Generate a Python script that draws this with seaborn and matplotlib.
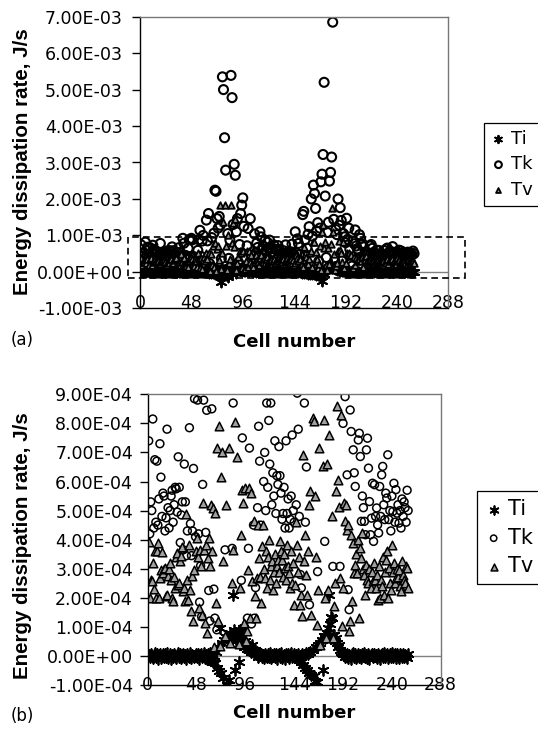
import numpy as np
import pandas as pd
import seaborn as sns
import matplotlib.pyplot as plt
from matplotlib.patches import Rectangle
from matplotlib.ticker import FuncFormatter

# energy dissipation rate per cell, in units of 1e-4 J/s (cells 1..256)
ti = [0.03, -0.05, 0.06, 0.00, -0.08, 0.04, 0.10, -0.03, 0.05, -0.10, 0.02, 0.08, -0.06, 0.00, 0.07, -0.04,
      0.05, -0.02, 0.09, -0.07, 0.01, 0.06, -0.09, 0.03, -0.04, 0.08, 0.00, -0.06, 0.04, 0.10, -0.02, 0.05,
      -0.08, 0.02, 0.07, -0.05, 0.03, -0.10, 0.06, 0.01, -0.03, 0.09, -0.07, 0.04, 0.00, -0.05, 0.08, -0.02,
      0.05, -0.09, 0.03, 0.07, -0.04, 0.00, 0.10, -0.06, 0.02, -0.12, 0.06, -0.10, 0.10, -0.15, 0.05, -0.20,
      0.00, -0.25, 0.14, -0.40, 0.30, -0.53, 0.96, -0.60, 0.43, -0.76, 0.55, -2.70, 0.66, -0.99, 0.60, -0.82,
      0.79, -1.30, 0.77, 2.10, 0.89, -0.50, 0.50, 0.68, 0.72, -0.20, 0.89, 0.40, 0.68, 0.97, 0.30, 0.50,
      0.37, 0.25, 0.39, 0.20, 0.31, 0.15, 0.39, 0.10, 0.20, 0.05, 0.12, -0.05, 0.10, 0.02, 0.06, -0.03,
      0.04, -0.07, 0.08, 0.01, -0.05, 0.06, -0.02, 0.09, -0.08, 0.03, 0.00, 0.07, -0.04, 0.05, -0.10, 0.02,
      0.06, -0.03, 0.10, -0.06, 0.01, 0.04, -0.09, 0.08, -0.01, 0.05, -0.07, 0.03, 0.09, -0.04, 0.00, 0.06,
      -0.05, 0.03, -0.10, 0.05, -0.15, 0.00, -0.20, 0.08, -0.31, 0.02, -0.40, 0.10, -0.47, 0.05, -0.60, 0.14,
      -0.64, 0.20, -0.70, -0.87, 0.30, -0.90, 0.39, -1.10, 0.45, -2.50, 0.55, -0.50, 0.68, 0.60, 0.68, 0.80,
      0.96, 2.10, 1.10, 1.35, 1.30, 0.73, 0.73, 0.50, 0.60, 0.45, 0.30, 0.39, 0.20, 0.15, 0.10, 0.05,
      0.08, -0.04, 0.02, 0.07, -0.06, 0.04, 0.00, -0.09, 0.05, 0.10, -0.03, 0.06, -0.07, 0.01, 0.08, -0.05,
      0.03, -0.08, 0.06, 0.00, 0.09, -0.02, 0.04, -0.06, 0.07, -0.10, 0.02, 0.05, -0.04, 0.08, -0.01, 0.03,
      -0.06, 0.07, 0.01, -0.09, 0.04, 0.06, -0.03, 0.10, -0.05, 0.02, 0.08, -0.07, 0.00, 0.05, -0.02, 0.09,
      -0.04, 0.03, 0.07, -0.08, 0.05, 0.00, -0.06, 0.08, 0.02, -0.03, 0.06, -0.05, 0.04, 0.01, -0.07, 0.05]

tk = [7.4, 4.2, 5.3, 5.0, 8.15, 4.4, 6.75, 4.6, 6.7, 4.5, 5.4, 7.3, 6.15, 4.8, 5.6, 5.5,
      4.3, 4.75, 7.8, 5.1, 4.4, 5.0, 5.5, 5.7, 4.6, 5.2, 5.8, 5.75, 4.95, 6.85, 5.8, 3.9,
      4.85, 5.3, 3.65, 6.6, 5.3, 3.45, 4.3, 9.2, 7.85, 4.55, 3.45, 4.3, 6.45, 8.85, 4.1, 9.2,
      8.8, 4.2, 1.85, 3.1, 1.35, 5.9, 8.8, 11.4, 4.25, 8.45, 10.0, 2.25, 1.2, 14.2, 8.5, 16.0,
      2.3, 1.3, 9.4, 0.9, 10.6, 22.4, 22.1, 14.6, 12.0, 15.2, 12.8, 3.65, 53.5, 50.0, 36.8, 27.9,
      0.7, 10.5, 3.7, 8.7, 53.9, 47.8, 13.0, 29.5, 26.5, 11.0, 14.6, 2.6, 7.5, 16.0, 18.3, 20.3,
      12.5, 1.3, 3.7, 7.15, 11.9, 1.1, 14.6, 4.5, 1.3, 2.35, 10.4, 5.1, 7.9, 6.7, 4.5, 11.0,
      9.6, 6.0, 7.0, 5.0, 8.7, 5.8, 8.1, 6.6, 8.7, 5.2, 6.3, 5.5, 7.4, 4.9, 6.2, 5.9,
      7.2, 6.2, 5.6, 4.7, 4.9, 5.8, 4.4, 7.4, 4.9, 5.4, 4.4, 4.7, 5.5, 7.6, 5.0, 4.6,
      11.0, 5.2, 9.04, 7.8, 4.8, 2.8, 2.34, 15.7, 16.6, 8.7, 4.6, 6.5, 10.3, 12.4, 1.76, 20.0,
      9.8, 23.8, 21.5, 17.4, 11.2, 13.5, 2.9, 12.0, 24.7, 26.8, 32.2, 52.0, 20.8, 3.94, 10.8, 13.6,
      24.9, 27.3, 31.5, 68.5, 14.4, 3.08, 11.6, 10.2, 20.0, 12.8, 17.6, 14.1, 3.08, 10.5, 9.6, 8.0,
      14.7, 8.92, 12.0, 6.23, 2.28, 1.59, 8.46, 7.72, 11.5, 7.09, 6.3, 5.83, 10.2, 9.2, 7.43, 7.66,
      6.86, 4.63, 5.5, 5.1, 4.63, 4.17, 7.09, 7.49, 6.46, 5.31, 4.17, 4.74, 5.94, 3.94, 5.89, 4.8,
      5.09, 4.51, 4.23, 5.83, 4.8, 6.23, 6.52, 5.2, 4.69, 5.6, 5.43, 6.92, 4.69, 5.0, 4.3, 5.5,
      4.97, 5.94, 4.6, 5.72, 4.91, 5.2, 4.57, 5.0, 4.4, 5.4, 4.8, 5.3, 5.1, 4.6, 5.7, 5.0]

tv = [3.93, 2.0, 2.61, 2.57, 3.2, 2.3, 3.6, 2.0, 3.6, 3.88, 1.99, 2.68, 2.95, 3.56, 2.85, 3.0,
      3.02, 2.05, 2.11, 2.74, 3.0, 3.2, 2.62, 2.0, 1.88, 2.7, 2.34, 3.4, 3.54, 2.45, 2.5, 3.25,
      3.45, 3.75, 2.25, 2.34, 1.9, 4.88, 2.62, 1.94, 3.83, 2.28, 1.55, 2.74, 1.2, 2.97, 3.6, 4.05,
      3.4, 1.65, 3.65, 3.1, 1.42, 5.26, 3.65, 1.13, 3.83, 0.79, 3.37, 4.06, 3.1, 5.2, 3.6, 5.1,
      0.3, 4.9, 1.82, 7.15, 1.2, 7.9, 0.33, 6.14, 7.0, 3.25, 18.3, 0.68, 5.2, 13.7, 18.3, 7.15,
      0.45, 10.0, 2.5, 3.65, 18.3, 8.05, 13.3, 6.86, 14.6, 0.4, 2.34, 4.17, 5.7, 5.26, 1.13, 5.77,
      0.5, 0.85, 2.97, 5.77, 1.3, 5.6, 2.57, 4.63, 2.05, 1.3, 2.68, 4.5, 3.37, 2.7, 1.82, 3.77,
      4.5, 3.0, 2.68, 3.6, 2.34, 3.4, 4.0, 2.6, 3.1, 3.25, 2.28, 2.9, 3.5, 2.5, 3.08, 3.3,
      2.9, 3.94, 3.6, 3.3, 2.7, 3.5, 3.02, 2.6, 3.8, 3.1, 2.85, 2.34, 3.6, 2.5, 3.2, 1.76,
      2.45, 4.6, 3.83, 2.9, 3.4, 1.76, 2.11, 1.36, 6.92, 3.25, 4.17, 2.8, 2.11, 3.6, 5.2, 5.66,
      1.42, 8.18, 8.07, 5.49, 3.4, 1.08, 2.28, 7.15, 0.39, 10.9, 12.8, 6.55, 8.12, 2.0, 0.62, 6.6,
      2.28, 7.6, 17.6, 10.9, 4.8, 0.62, 1.71, 2.5, 5.66, 8.6, 6.06, 5.14, 2.68, 8.29, 1.02, 2.34,
      5.26, 4.65, 5.2, 4.34, 4.5, 0.85, 1.19, 4.17, 1.88, 3.88, 2.85, 3.14, 3.5, 2.85, 4.0, 1.31,
      3.71, 3.37, 4.23, 3.0, 2.8, 2.1, 3.14, 2.6, 2.5, 3.0, 2.34, 2.9, 2.57, 3.2, 2.6, 2.34,
      2.8, 1.94, 3.1, 1.99, 2.6, 2.4, 3.42, 2.11, 2.9, 3.3, 3.6, 1.99, 3.02, 2.5, 2.28, 3.83,
      2.9, 3.2, 2.5, 2.68, 3.0, 2.7, 2.97, 2.4, 2.22, 3.25, 2.8, 2.62, 2.5, 3.1, 3.02, 2.34]

series = ['Ti', 'Tk', 'Tv']
xticks = [0, 48, 96, 144, 192, 240, 288]
yticks_a = [-1e-3, 0.0, 1e-3, 2e-3, 3e-3, 4e-3, 5e-3, 6e-3, 7e-3]
yticks_b = [-1e-4, 0.0, 1e-4, 2e-4, 3e-4, 4e-4, 5e-4, 6e-4, 7e-4, 8e-4, 9e-4]

W, H = 538, 735


def make_frame():
    parts = []
    for name, vals in zip(series, [ti, tk, tv]):
        parts.append(pd.DataFrame({'cell': np.arange(1, len(vals) + 1),
                                   'rate': np.array(vals) * 1e-4,
                                   'series': name}))
    return pd.concat(parts, ignore_index=True)


def draw_panel(ax, df, styles, yticks, xpad, ypad):
    ax.axhline(0, color='#808080', lw=1, zorder=0.5)
    for name in series:
        d = df[df['series'] == name]
        sns.scatterplot(x='cell', y='rate', data=d, ax=ax, label=name, **styles[name])

    ax.set_xlim(0, 288)
    ax.set_ylim(yticks[0], yticks[-1])
    ax.set_xticks(xticks)
    ax.set_yticks(yticks)
    ax.yaxis.set_major_formatter(FuncFormatter(lambda v, pos: f'{v:.2E}'))
    ax.set_xlabel('')
    ax.set_ylabel('')
    ax.tick_params(axis='x', bottom=True, length=0, pad=xpad, labelsize=12.5)
    ax.tick_params(axis='y', left=True, length=6, width=1, color='black',
                   direction='out', pad=ypad, labelsize=12.5)
    for side in ['left', 'bottom']:
        ax.spines[side].set_color('black')
        ax.spines[side].set_linewidth(1)
    for side in ['top', 'right']:
        ax.spines[side].set_color('#777777')
        ax.spines[side].set_linewidth(1)


def main():
    df = make_frame()

    sns.set_style('white')
    plt.rcParams['font.family'] = ['DejaVu Sans']
    for k in ['text.color', 'axes.labelcolor', 'xtick.color', 'ytick.color']:
        plt.rcParams[k] = 'black'

    fig = plt.figure(figsize=(W / 100, H / 100), dpi=100)
    ax_a = fig.add_axes([140 / W, 1 - 308.3 / H, 308.3 / W, 291.6 / H])
    ax_b = fig.add_axes([147.7 / W, 1 - 685 / H, 293 / W, 290.7 / H])

    styles_a = {
        'Ti': dict(marker=(6, 2, 0), s=50, color='black', linewidth=1.4),
        'Tk': dict(marker='o', s=42, facecolor='none', edgecolor='black', linewidth=1.5),
        'Tv': dict(marker='^', s=22, facecolor='#9a9a9a', edgecolor='black', linewidth=1.3),
    }
    styles_b = {
        'Ti': dict(marker=(6, 2, 0), s=60, color='black', linewidth=1.3),
        'Tk': dict(marker='o', s=32, facecolor='none', edgecolor='black', linewidth=1.1),
        'Tv': dict(marker='^', s=38, facecolor='#a0a0a0', edgecolor='black', linewidth=1.1),
    }

    draw_panel(ax_a, df, styles_a, yticks_a, xpad=-10, ypad=6.5)
    draw_panel(ax_b, df, styles_b, yticks_b, xpad=-6.5, ypad=4.6)

    # dashed box marking the zoomed region shown in (b)
    ax_a.add_patch(Rectangle((-11.5, -0.178e-3), 315.1, 1.123e-3, fill=False,
                             ls=(0, (4, 2.5)), lw=1.2, ec='black', clip_on=False, zorder=5))

    leg_a = ax_a.legend(loc='upper left', bbox_to_anchor=(484 / W, 1 - 123 / H),
                        bbox_transform=fig.transFigure, borderaxespad=0, fontsize=13,
                        fancybox=False, edgecolor='black', framealpha=1, handlelength=0.8,
                        handletextpad=0.3, labelspacing=0.4, borderpad=0.4, markerscale=0.75)
    leg_b = ax_b.legend(loc='upper left', bbox_to_anchor=(477 / W, 1 - 491 / H),
                        bbox_transform=fig.transFigure, borderaxespad=0, fontsize=15,
                        fancybox=False, edgecolor='black', framealpha=1, handlelength=0.8,
                        handletextpad=0.3, labelspacing=0.4, borderpad=0.4, markerscale=0.8)
    for leg in [leg_a, leg_b]:
        leg.get_frame().set_linewidth(0.9)

    ylab = 'Energy dissipation rate, J/s'
    fig.text(23 / W, 1 - 162 / H, ylab, rotation=90, ha='center', va='center',
             fontsize=14.8, fontweight='bold', family=['Liberation Sans', 'DejaVu Sans'])
    fig.text(23 / W, 1 - 546 / H, ylab, rotation=90, ha='center', va='center',
             fontsize=14.8, fontweight='bold', family=['Liberation Sans', 'DejaVu Sans'])
    fig.text(294 / W, 1 - 342 / H, 'Cell number', ha='center', va='center',
             fontsize=13, fontweight='bold')
    fig.text(294 / W, 1 - 713 / H, 'Cell number', ha='center', va='center',
             fontsize=13, fontweight='bold')
    fig.text(22 / W, 1 - 340 / H, '(a)', ha='center', va='center', fontsize=12)
    fig.text(22 / W, 1 - 716 / H, '(b)', ha='center', va='center', fontsize=12)

    plt.savefig('out.png', dpi=100)


if __name__ == '__main__':
    main()
